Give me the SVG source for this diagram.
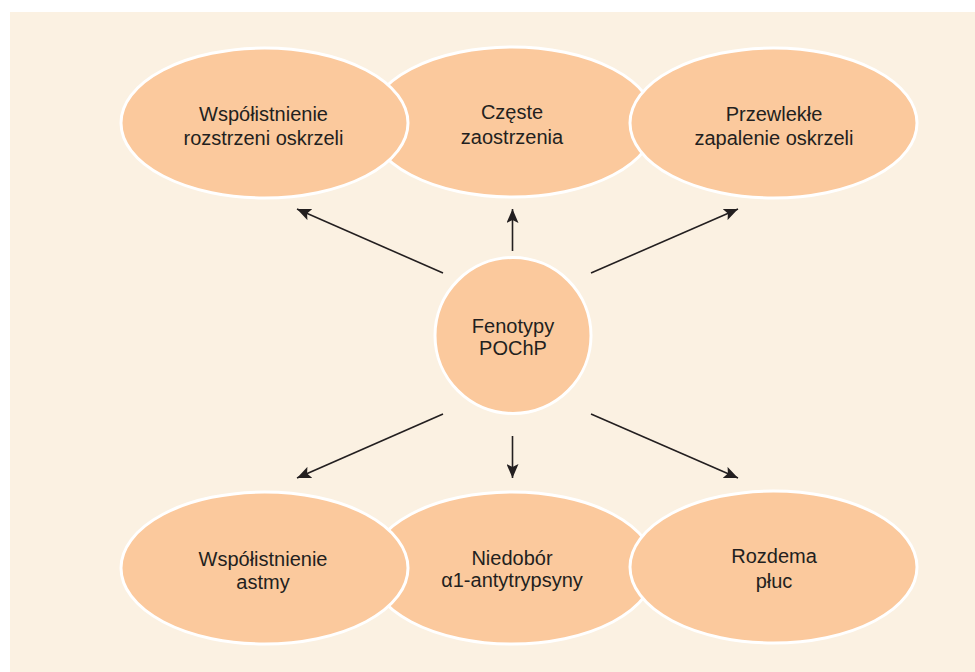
<svg xmlns="http://www.w3.org/2000/svg" width="975" height="672" viewBox="0 0 975 672">
  <style>
    .node { fill: #fbc99d; stroke: #ffffff; stroke-width: 3; }
    .lbl { font-family: "Liberation Sans", Arial, sans-serif; font-size: 20px; fill: #231f20; text-anchor: middle; }
    .conn { stroke: #231f20; stroke-width: 1.6; fill: none; marker-end: url(#arrow); }
  </style>
  <defs>
    <marker id="arrow" markerUnits="userSpaceOnUse" markerWidth="16" markerHeight="12" refX="14" refY="6" orient="auto">
      <path d="M0,0 L14,6 L0,12 L3,6 Z" fill="#231f20"/>
    </marker>
  </defs>
  <rect x="0" y="0" width="975" height="672" fill="#ffffff"/>
  <rect x="10" y="12" width="965" height="660" fill="#fbf1e2"/>

  <g id="connectors">
    <line class="conn" x1="443" y1="273" x2="297" y2="209"/>
    <line class="conn" x1="512.5" y1="251" x2="512.5" y2="209"/>
    <line class="conn" x1="591" y1="273" x2="738" y2="209"/>
    <line class="conn" x1="443" y1="414" x2="297" y2="478"/>
    <line class="conn" x1="512.5" y1="436" x2="512.5" y2="478"/>
    <line class="conn" x1="591" y1="414" x2="738" y2="478"/>
  </g>

  <g id="node-czeste">
    <ellipse class="node" cx="512" cy="122" rx="143" ry="75"/>
    <text class="lbl" x="512" y="119">Częste</text>
    <text class="lbl" x="512" y="144">zaostrzenia</text>
  </g>
  <g id="node-rozstrzenie">
    <ellipse class="node" cx="264.5" cy="123" rx="143.5" ry="75"/>
    <text class="lbl" x="263.5" y="121">Współistnienie</text>
    <text class="lbl" x="263.5" y="145">rozstrzeni oskrzeli</text>
  </g>
  <g id="node-przewlekle">
    <ellipse class="node" cx="773.5" cy="123" rx="143.5" ry="75"/>
    <text class="lbl" x="774" y="121">Przewlekłe</text>
    <text class="lbl" x="774" y="145">zapalenie oskrzeli</text>
  </g>

  <g id="node-fenotypy">
    <circle class="node" cx="513" cy="335.5" r="78"/>
    <text class="lbl" x="513" y="333">Fenotypy</text>
    <text class="lbl" x="513" y="355">POChP</text>
  </g>

  <g id="node-niedobor">
    <ellipse class="node" cx="512" cy="568" rx="143" ry="76"/>
    <text class="lbl" x="512" y="565">Niedobór</text>
    <text class="lbl" x="512" y="587">α1-antytrypsyny</text>
  </g>
  <g id="node-astma">
    <ellipse class="node" cx="264.5" cy="568" rx="143.5" ry="76"/>
    <text class="lbl" x="263" y="566">Współistnienie</text>
    <text class="lbl" x="263" y="589">astmy</text>
  </g>
  <g id="node-rozedma">
    <ellipse class="node" cx="773.5" cy="567" rx="143.5" ry="76"/>
    <text class="lbl" x="774" y="563">Rozdema</text>
    <text class="lbl" x="774" y="588">płuc</text>
  </g>
</svg>
